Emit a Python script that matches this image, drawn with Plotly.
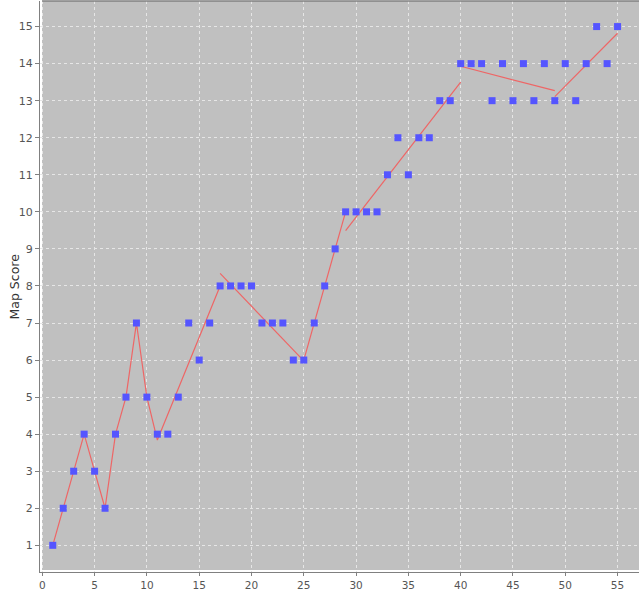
import plotly.graph_objects as go

# Observed map scores
x_vals = list(range(1, 56))
scores = [1, 2, 3, 4, 3, 2, 4, 5, 7, 5,
          4, 4, 5, 7, 6, 7, 8, 8, 8, 8,
          7, 7, 7, 6, 6, 7, 8, 9, 10, 10,
          10, 10, 11, 12, 11, 12, 12, 13, 13, 14,
          14, 14, 13, 14, 13, 14, 13, 14, 13, 14,
          13, 14, 15, 14, 15]

# Piecewise fitted line (segments separated by None)
fit_x = [1, 2, 3, 4, 5, 6, 7, 8, 9, 10, 11, 17, None,
         17, 25, None,
         25, 26, 27, 28, 29, None,
         29, 40, None,
         40, 49, None,
         49, 55]
fit_y = [1, 2, 3, 4, 3, 2, 4, 5, 7, 5, 3.84, 8.0, None,
         8.34, 5.98, None,
         6, 7, 8, 9, 10, None,
         9.49, 13.5, None,
         13.93, 13.27, None,
         13.11, 14.82]

x_ticks = [0, 5, 10, 15, 20, 25, 30, 35, 40, 45, 50, 55]
y_ticks = list(range(1, 16))
y_title = "Map Score"

fig = go.Figure()
fig.add_trace(go.Scatter(x=fit_x, y=fit_y, mode="lines",
                         line=dict(color="#ee6666", width=1.2),
                         connectgaps=False, showlegend=False, hoverinfo="skip"))
fig.add_trace(go.Scatter(x=x_vals, y=scores, mode="markers",
                         marker=dict(symbol="square", size=7, color="#5555ff",
                                     line=dict(width=0)),
                         showlegend=False))

W, H = 639, 590
ml, mr, mt, mb = 40, 0, 1, 18
pw, ph = W - ml - mr, H - mt - mb
gx = 2 / pw
gy = 2 / ph

fig.update_layout(
    width=W, height=H,
    margin=dict(l=ml, r=mr, t=mt, b=mb, pad=0, autoexpand=False),
    paper_bgcolor="white",
    plot_bgcolor="white",
    font=dict(family="DejaVu Sans", size=11, color="#444444"),
    shapes=[
        dict(type="rect", xref="paper", yref="paper", x0=gx, x1=1, y0=gy, y1=1,
             fillcolor="#c0c0c0", line=dict(width=0), layer="below"),
        dict(type="line", xref="paper", yref="paper", x0=gx, x1=1, y0=1, y1=1,
             line=dict(color="#808080", width=1.5)),
    ],
    annotations=[
        dict(text=y_title, xref="paper", yref="paper",
             x=(14 - ml) / pw, y=0.5, xanchor="center", yanchor="middle",
             textangle=-90, showarrow=False,
             font=dict(size=12.5, color="#333333")),
    ],
)
fig.update_xaxes(
    range=[-0.22, 57.05], tickvals=x_ticks, ticks="outside", ticklen=3,
    tickcolor="#808080", showline=True, linecolor="#808080", linewidth=1,
    showgrid=True, gridcolor="#e6e6e6", griddash="dot", gridwidth=1,
    zeroline=False, tickfont=dict(size=10.5, color="#555555"), automargin=False,
)
fig.update_yaxes(
    range=[0.28, 15.69], tickvals=y_ticks, ticks="outside", ticklen=4,
    tickcolor="#808080", showline=True, linecolor="#808080", linewidth=1,
    showgrid=True, gridcolor="#e6e6e6", griddash="dot", gridwidth=1,
    zeroline=False, tickfont=dict(size=11, color="#555555"), automargin=False,
)

fig.write_html("out.html",
               config={"displayModeBar": False},
               post_script="document.body.style.margin='0';document.body.style.padding='0';")
